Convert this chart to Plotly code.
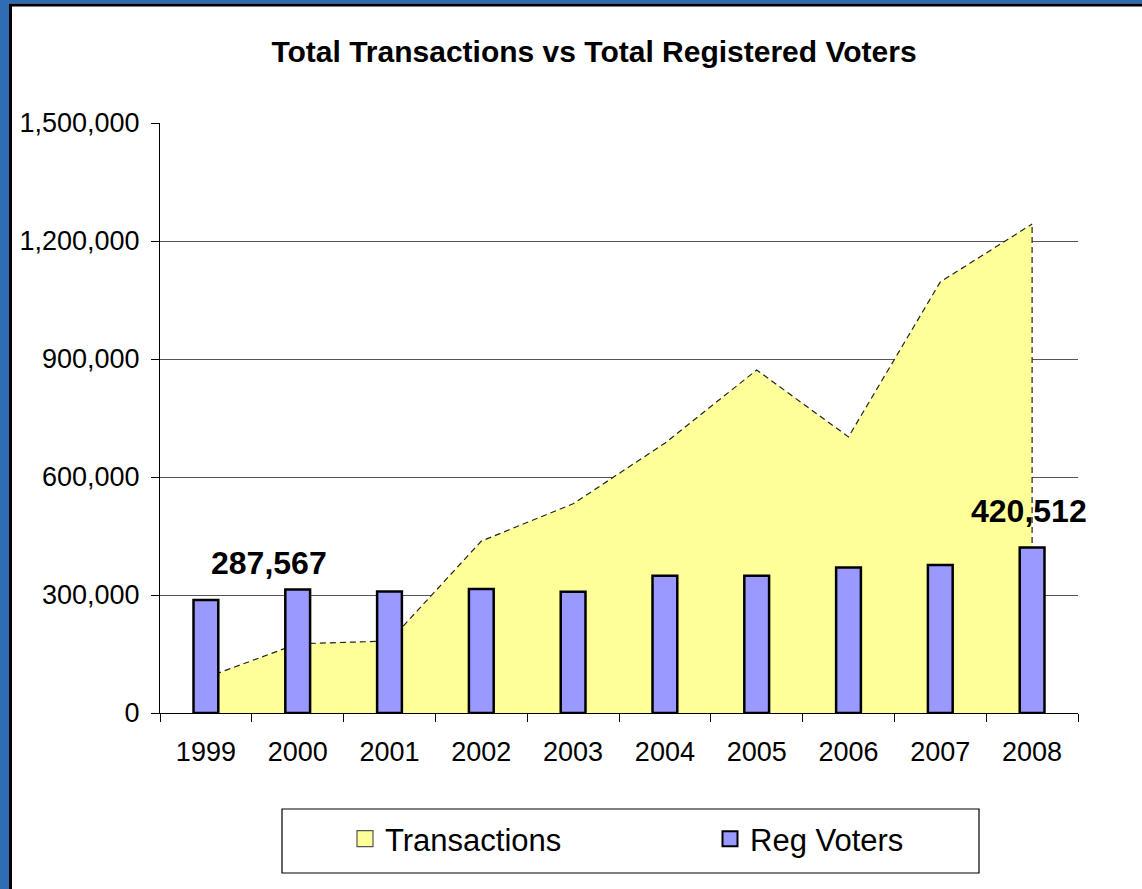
import plotly.graph_objects as go

years = ["1999", "2000", "2001", "2002", "2003", "2004", "2005", "2006", "2007", "2008"]
transactions = [90000, 176000, 183000, 437000, 532000, 686000, 872000, 702000, 1096000, 1243000]
reg_voters = [287567, 314000, 309000, 315000, 308000, 349000, 349000, 370000, 376000, 420512]
labelled_idx = [0, 9]
tick_vals = [0, 300000, 600000, 900000, 1200000, 1500000]

FONT = "Liberation Sans, Arial, sans-serif"
W, H = 1142, 889
L, R, T, B = 160, 64, 123, 176
PW, PH = W - L - R, H - T - B

AREA_COLOR = "#FFFF99"
BAR_COLOR = "#9999FF"


def px(x):
    return (x - L) / PW


def py(y):
    return (H - B - y) / PH


fig = go.Figure()

dash_line = dict(color="#222222", width=1.2, dash="6px,4px")

# Area (transactions) on primary axes
fig.add_trace(go.Scatter(
    x=years, y=transactions,
    mode="lines",
    fill="tozeroy",
    fillcolor=AREA_COLOR,
    line=dash_line,
    name="Transactions",
    showlegend=False,
    xaxis="x", yaxis="y",
))
# vertical closing edges of the area
for i in (0, len(years) - 1):
    fig.add_trace(go.Scatter(
        x=[years[i], years[i]], y=[0, transactions[i]],
        mode="lines", line=dash_line, showlegend=False, hoverinfo="skip",
        xaxis="x", yaxis="y",
    ))

# Bars (registered voters) on overlaying axes so they sit above the area
fig.add_trace(go.Bar(
    x=years, y=reg_voters,
    width=0.27,
    marker=dict(color=BAR_COLOR, line=dict(color="black", width=2.5)),
    name="Reg Voters",
    showlegend=False,
    xaxis="x2", yaxis="y2",
))

# legend swatches (square keys as in the original)
fig.add_trace(go.Scatter(
    x=[None], y=[None], mode="markers", name="Transactions",
    marker=dict(symbol="square", size=17, color=AREA_COLOR, line=dict(color="#555555", width=1.2)),
    xaxis="x", yaxis="y",
))
fig.add_trace(go.Scatter(
    x=[None], y=[None], mode="markers", name="Reg Voters",
    marker=dict(symbol="square", size=15, color=BAR_COLOR, line=dict(color="black", width=2)),
    xaxis="x", yaxis="y",
))

shifts = {0: 63, 9: -3}
annotations = []
for i in labelled_idx:
    annotations.append(dict(
        x=i, y=reg_voters[i], xref="x", yref="y",
        text=f"<b>{reg_voters[i]:,}</b>", showarrow=False,
        xanchor="center", yanchor="middle", xshift=shifts[i], yshift=37,
        font=dict(family=FONT, size=32, color="black"),
    ))

# Frame (blue outer band with black inner line)
blue = "#2E6DB4"
shapes = [
    dict(type="rect", xref="paper", yref="paper", x0=px(-5), x1=px(9), y0=py(H + 5), y1=py(-5),
         fillcolor=blue, line=dict(width=0), layer="above"),
    dict(type="rect", xref="paper", yref="paper", x0=px(9), x1=px(12), y0=py(H + 5), y1=py(4),
         fillcolor="black", line=dict(width=0), layer="above"),
    dict(type="rect", xref="paper", yref="paper", x0=px(-5), x1=px(W + 5), y0=py(3.5), y1=py(-5),
         fillcolor=blue, line=dict(width=0), layer="above"),
    dict(type="rect", xref="paper", yref="paper", x0=px(9), x1=px(W + 5), y0=py(6.5), y1=py(3.5),
         fillcolor="black", line=dict(width=0), layer="above"),
    # legend box
    dict(type="rect", xref="paper", yref="paper", x0=px(282), x1=px(979), y0=py(873), y1=py(809),
         fillcolor="rgba(0,0,0,0)", line=dict(color="black", width=1.2), layer="above"),
]

fig.update_layout(
    width=W, height=H,
    margin=dict(l=L, r=R, t=T, b=B, pad=0),
    paper_bgcolor="white", plot_bgcolor="white",
    font=dict(family=FONT, color="black"),
    title=dict(
        text="<b>Total Transactions vs Total Registered Voters</b>",
        font=dict(family=FONT, size=30, color="black"),
        x=px(594), xref="paper", xanchor="center",
        y=1 - 51 / H, yref="container", yanchor="middle",
    ),
    xaxis=dict(
        type="category", categoryorder="array", categoryarray=years,
        range=[-0.5, 9.5],
        showline=True, linecolor="black", linewidth=1,
        ticks="outside", tickson="boundaries", ticklen=8, tickcolor="black",
        tickfont=dict(family=FONT, size=27, color="black"),
        ticklabelstandoff=15,
        showgrid=False, zeroline=False,
    ),
    xaxis2=dict(
        type="category", categoryorder="array", categoryarray=years,
        range=[-0.5, 9.5], overlaying="x", visible=False,
    ),
    yaxis=dict(
        range=[0, 1500000], tickvals=tick_vals, tickformat=",",
        showline=True, linecolor="black", linewidth=1,
        ticks="outside", ticklen=8, tickcolor="black",
        tickfont=dict(family=FONT, size=27, color="black"),
        ticklabelstandoff=6,
        showgrid=True, gridcolor="#555555", gridwidth=1,
        zeroline=False,
    ),
    yaxis2=dict(range=[0, 1500000], overlaying="y", visible=False),
    showlegend=True,
    legend=dict(
        orientation="h",
        x=px(345), xanchor="left",
        y=py(839), yanchor="middle",
        font=dict(family=FONT, size=31, color="black"),
        bgcolor="rgba(0,0,0,0)", borderwidth=0,
        entrywidth=320, entrywidthmode="pixels",
        traceorder="normal",
    ),
    shapes=shapes,
    annotations=annotations,
)

fig.write_html("out.html", config={"displayModeBar": False},
               post_script="document.body.style.margin='0';")
